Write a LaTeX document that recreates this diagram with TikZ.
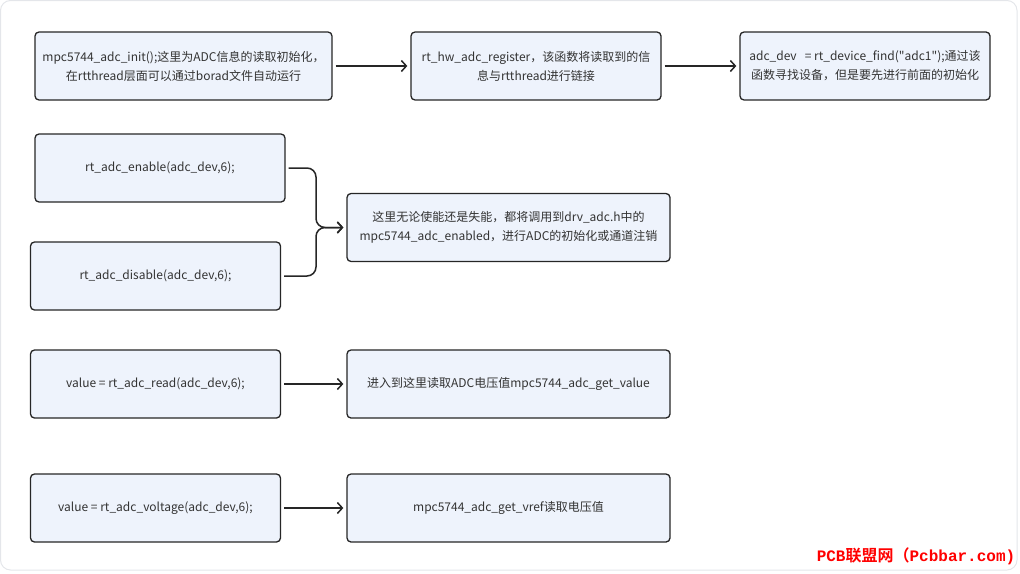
\documentclass[tikz,border=0pt]{standalone}
\usepackage{fontspec}
\setmainfont{Noto Sans CJK SC}[Ligatures=TeXOff]
\newfontfamily\monof{Liberation Mono}
\newfontfamily\cjkb{Noto Sans CJK SC Bold}
\usetikzlibrary{arrows.meta}
\definecolor{boxfill}{HTML}{EEF3FC}
\definecolor{boxline}{HTML}{262626}
\definecolor{txt}{HTML}{333333}
\definecolor{frame}{HTML}{E4E6EA}
\tikzset{
  box/.style={draw=boxline, fill=boxfill, line width=1.3pt, rounded corners=4pt,
    minimum width=250pt, minimum height=68pt, align=center, text=txt,
    font=\fontsize{12}{19}\selectfont, inner sep=2pt},
  conn/.style={draw=boxline, line width=1.5pt, -{Straight Barb[length=5pt,width=11pt,line width=1.5pt]},
    shorten <=3pt, shorten >=3pt}
}
\begin{document}
\begin{tikzpicture}[x=1pt,y=-1pt]
\useasboundingbox (0,0) rectangle (1020,573);
\draw[frame, line width=1pt, rounded corners=10pt] (0.5,0.5) rectangle (1017,570);
\node[box, minimum width=297pt] (a) at (183.5,66) {mpc5744\_adc\_init();这里为ADC信息的读取初始化，\\在rtthread层面可以通过borad文件自动运行};
\node[box] (b) at (536,66) {rt\_hw\_adc\_register，该函数将读取到的信\\息与rtthread进行链接};
\node[box] (c) at (865,66) {adc\_dev\ \ \ = rt\_device\_find("adc1");通过该\\函数寻找设备，但是要先进行前面的初始化};
\node[box] (en) at (160,168) {rt\_adc\_enable(adc\_dev,6);};
\node[box] (dis) at (155.5,276) {rt\_adc\_disable(adc\_dev,6);};
\node[box, minimum width=323pt] (tg) at (508.5,227.5) {这里无论使能还是失能，都将调用到drv\_adc.h中的\\mpc5744\_adc\_enabled，进行ADC的初始化或通道注销};
\node[box] (rd) at (155.5,384) {value = rt\_adc\_read(adc\_dev,6);};
\node[box, minimum width=323pt] (rdt) at (508.5,384) {进入到这里读取ADC电压值mpc5744\_adc\_get\_value};
\node[box] (vo) at (155.5,508) {value = rt\_adc\_voltage(adc\_dev,6);};
\node[box, minimum width=323pt] (vot) at (508.5,508) {mpc5744\_adc\_get\_vref读取电压值};
\coordinate (j) at (316,227.5);
\draw[conn] (a) -- (b);
\draw[conn] (b) -- (c);
\draw[conn, rounded corners=9pt] (en.east) -| (j) -- (tg.west);
\draw[conn, rounded corners=9pt] (dis.east) -| (j) -- (tg.west);
\draw[conn] (rd) -- (rdt);
\draw[conn] (vo) -- (vot);
\node[text=red, inner sep=0pt, font=\fontsize{16}{16}\selectfont] (wm) at (916,556) {{\monof\bfseries PCB}{\cjkb 联盟网（}{\monof\bfseries Pcbbar.com)}};
\end{tikzpicture}
\end{document}
